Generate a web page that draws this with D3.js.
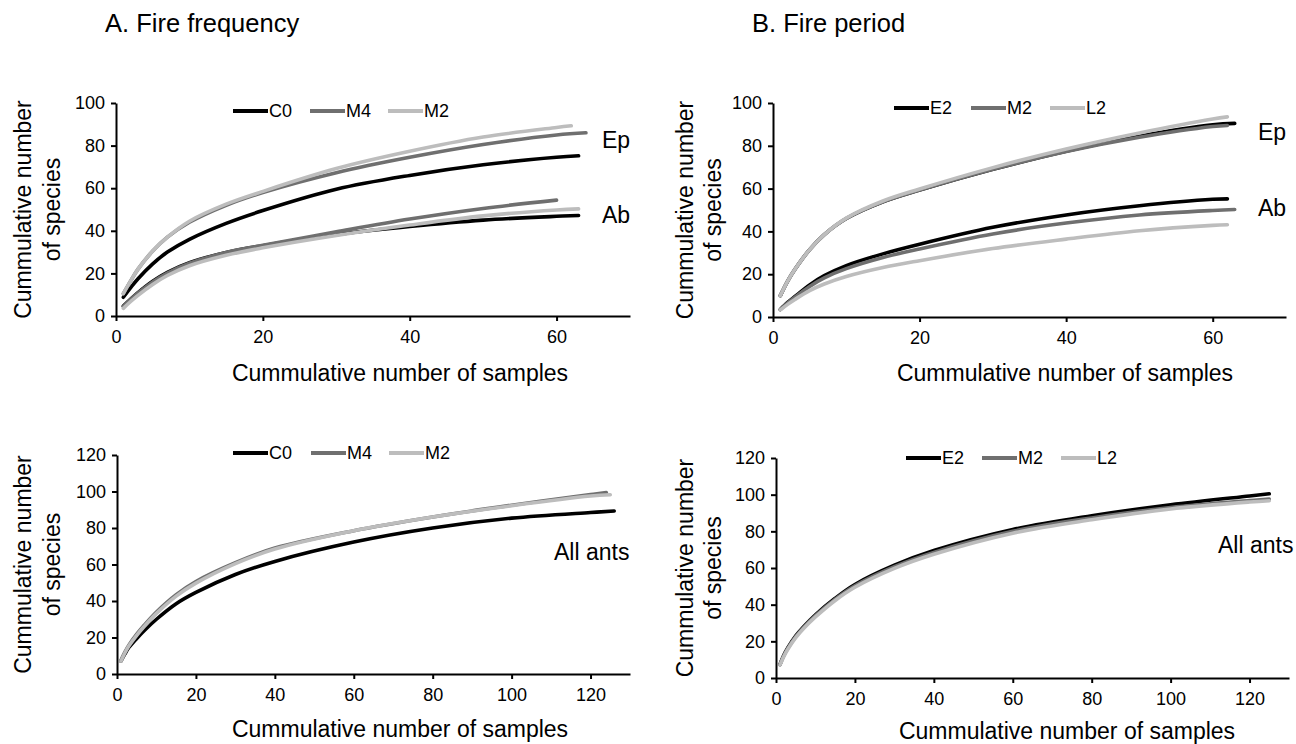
<!DOCTYPE html>
<html>
<head>
<meta charset="utf-8">
<script src="https://cdn.jsdelivr.net/npm/d3@7"></script>
<style>
  body { margin: 0; background: #fff; }
  text { font-family: "Liberation Sans", Arial, sans-serif; fill: #000; }
</style>
</head>
<body>
<script>
// sample points (cumulative number of samples)
var xTop = [1, 2, 3, 5, 7, 10, 15, 20, 30, 40, 50, 60];
var xBottom = [1, 2, 3, 5, 7, 10, 15, 20, 30, 40, 60, 80, 100, 120];

// A. fire frequency - epigaeic
var epC0 = [8.8, 13.3, 17.5, 24.5, 30, 36, 43.5, 49.5, 59.5, 66, 71, 74.5, 75.2];
var epM4 = [10.5, 16.5, 22, 30.5, 37, 44, 52, 58, 67.3, 74.5, 80.5, 85, 86];
var epM2 = [10.5, 16.5, 22, 30.5, 37, 44.5, 52.5, 58.5, 69.2, 77.3, 84, 88.5, 89.3];
var epEndA = [63, 64, 62];
// A. fire frequency - arboreal
var abC0 = [4.7, 8, 11, 16.3, 20.5, 25, 29.8, 33, 38.2, 42, 45, 46.8, 47.2];
var abM4 = [4.5, 7.8, 10.8, 16, 20.2, 24.8, 29.8, 33.2, 39.5, 45.5, 50.5, 54.4];
var abM2 = [3.6, 6.8, 9.7, 14.8, 19, 23.6, 28.5, 32, 37.8, 42.7, 47, 49.8, 50.3];
var abEndA = [63, null, 63];

// B. fire period - epigaeic
var epE2 = [10, 16.8, 22.3, 31.5, 38.5, 46, 53.8, 59.3, 69, 77.5, 84.5, 89.8, 90.5];
var epM2b = [10, 16.8, 22.3, 31.5, 38.5, 46, 53.8, 59.3, 69, 77.3, 84, 89, 89.5];
var epL2 = [10, 16.8, 22.3, 31.5, 38.5, 46.2, 54.2, 59.8, 69.8, 78.5, 86, 92.5, 93.5];
var epEndB = [63, 62, 62];
// B. fire period - arboreal
var abE2 = [3.5, 6.8, 9.6, 15, 19.3, 24, 29.5, 34, 41.9, 47.7, 52, 55, 55.2];
var abM2b = [3.5, 6.6, 9.3, 14.3, 18.3, 22.6, 27.8, 31.8, 38.8, 43.9, 47.7, 49.8, 50.2];
var abL2 = [3.3, 5.9, 8.2, 12.3, 15.4, 18.9, 23.1, 26.3, 32, 36.4, 40.3, 42.8, 43.1];
var abEndB = [62, 63, 62];

// all ants
var allC0 = [7, 11, 14.5, 19.5, 24, 30, 38.5, 44.7, 54.5, 61.7, 72.3, 80, 85.4, 88.5, 89.3];
var allM4 = [7.5, 12, 15.8, 21.8, 27, 34, 43.5, 50.7, 61, 69, 78.5, 86, 92.5, 98.3, 99.4];
var allM2 = [7, 11.5, 15.3, 21.2, 26.3, 33.2, 42.7, 49.8, 60.5, 68.5, 78.5, 86, 92.2, 97.5, 98.2];
var allEndA = [126, 124, 125];
var allE2 = [7.3, 12.5, 16.5, 23, 28, 34.5, 43.5, 51, 61.5, 69.5, 81, 88.5, 94.5, 99.3, 100.5];
var allM2b = [7.3, 12.3, 16.2, 22.6, 27.6, 34, 43, 50.3, 60.7, 68.5, 80, 87.3, 93, 96.8, 97.6];
var allL2 = [7, 11.8, 15.7, 22, 27, 33.3, 42.3, 49.5, 59.8, 67.5, 79, 86.3, 92.2, 96, 96.7];
var allEndB = [125, 125, 125];

var namesA = ["C0", "M4", "M2"];
var namesB = ["E2", "M2", "L2"];
var colors = ["#000000", "#6f6f6f", "#bdbdbd"];

var ticksTop = [0, 20, 40, 60, 80, 100];
var ticksBottom = [0, 20, 40, 60, 80, 100, 120];
var xTicksTop = [0, 20, 40, 60];
var xTicksBottom = [0, 20, 40, 60, 80, 100, 120];

// build [x, y] points for a series
function pts(xs, ys, end) {
    var p = [];
    for (var i = 0; i < ys.length; i++) {
        var x = i < xs.length ? xs[i] : end;
        p.push([x, ys[i]]);
    }
    return p;
}

var svg = d3.select("body").append("svg")
    .attr("width", 1296)
    .attr("height", 744);

svg.append("text").attr("x", 105).attr("y", 32).attr("font-size", 25.5).text("A. Fire frequency");
svg.append("text").attr("x", 752).attr("y", 32).attr("font-size", 25.5).text("B. Fire period");

function panel(cfg) {
    var xScale = d3.scaleLinear().domain([0, cfg.xMax]).range(cfg.xr);
    var yScale = d3.scaleLinear().domain([0, cfg.yMax]).range(cfg.yr);

    var g = svg.append("g");

    var yAxis = d3.axisLeft(yScale).tickValues(cfg.yTicks).tickSize(5).tickSizeOuter(0).tickPadding(6);
    var xAxis = d3.axisBottom(xScale).tickValues(cfg.xTicks).tickSize(5).tickSizeOuter(0).tickPadding(9);

    g.append("g").attr("transform", "translate(" + cfg.xr[0] + ",0)").call(yAxis);
    g.append("g").attr("transform", "translate(0," + cfg.yr[0] + ")").call(xAxis);
    g.selectAll(".domain").attr("stroke", "#000").attr("stroke-width", 2);
    g.selectAll(".tick line").attr("stroke", "#000").attr("stroke-width", 2);
    g.selectAll(".tick text").attr("font-size", 18).attr("font-family", "Liberation Sans, Arial, sans-serif");

    var line = d3.line()
        .x(function (d) { return xScale(d[0]); })
        .y(function (d) { return yScale(d[1]); })
        .curve(d3.curveCatmullRom.alpha(0.5));

    g.selectAll("path.curve").data(cfg.series).enter().append("path")
        .attr("class", "curve")
        .attr("d", function (d) { return line(d.p); })
        .attr("fill", "none")
        .attr("stroke", function (d) { return d.c; })
        .attr("stroke-width", 3.6)
        .attr("stroke-linecap", "round");

    // legend
    cfg.names.forEach(function (n, i) {
        var lx = cfg.legX[i];
        g.append("line").attr("x1", lx).attr("x2", lx + 35)
            .attr("y1", cfg.legY).attr("y2", cfg.legY)
            .attr("stroke", colors[i]).attr("stroke-width", 4);
        g.append("text").attr("x", lx + 36).attr("y", cfg.legY).attr("dy", "0.35em")
            .attr("font-size", 18).text(n);
    });

    cfg.labels.forEach(function (l) {
        g.append("text").attr("x", l[1]).attr("y", l[2]).attr("dy", "0.35em")
            .attr("font-size", 23).text(l[0]);
    });

    // axis titles
    g.append("text").attr("x", cfg.xTitle[0]).attr("y", cfg.xTitle[1]).attr("dy", "0.35em")
        .attr("text-anchor", "middle").attr("font-size", 23).text("Cummulative number of samples");
    var yc = (cfg.yr[0] + cfg.yr[1]) / 2;
    [["Cummulative number", cfg.yTitleX[0]], ["of species", cfg.yTitleX[1]]].forEach(function (t) {
        g.append("text").attr("transform", "translate(" + t[1] + "," + yc + ") rotate(-90)")
            .attr("dy", "0.35em").attr("text-anchor", "middle").attr("font-size", 23).text(t[0]);
    });
}

panel({
    xMax: 70, yMax: 100, xr: [116, 630], yr: [316, 103],
    yTicks: ticksTop, xTicks: xTicksTop,
    series: [
        {p: pts(xTop, epC0, epEndA[0]), c: colors[0]},
        {p: pts(xTop, epM4, epEndA[1]), c: colors[1]},
        {p: pts(xTop, epM2, epEndA[2]), c: colors[2]},
        {p: pts(xTop, abC0, abEndA[0]), c: colors[0]},
        {p: pts(xTop, abM4, abEndA[1]), c: colors[1]},
        {p: pts(xTop, abM2, abEndA[2]), c: colors[2]}
    ],
    names: namesA, legX: [233, 310, 388], legY: 111,
    labels: [["Ep", 602, 140], ["Ab", 602, 215]],
    xTitle: [400, 373], yTitleX: [23, 52]
});

panel({
    xMax: 70, yMax: 100, xr: [773, 1286], yr: [317, 103],
    yTicks: ticksTop, xTicks: xTicksTop,
    series: [
        {p: pts(xTop, epE2, epEndB[0]), c: colors[0]},
        {p: pts(xTop, epM2b, epEndB[1]), c: colors[1]},
        {p: pts(xTop, epL2, epEndB[2]), c: colors[2]},
        {p: pts(xTop, abE2, abEndB[0]), c: colors[0]},
        {p: pts(xTop, abM2b, abEndB[1]), c: colors[1]},
        {p: pts(xTop, abL2, abEndB[2]), c: colors[2]}
    ],
    names: namesB, legX: [894, 971, 1050], legY: 108,
    labels: [["Ep", 1258, 132], ["Ab", 1258, 208]],
    xTitle: [1065, 373], yTitleX: [685, 713]
});

panel({
    xMax: 130, yMax: 120, xr: [117, 630], yr: [674, 455],
    yTicks: ticksBottom, xTicks: xTicksBottom,
    series: [
        {p: pts(xBottom, allC0, allEndA[0]), c: colors[0]},
        {p: pts(xBottom, allM4, allEndA[1]), c: colors[1]},
        {p: pts(xBottom, allM2, allEndA[2]), c: colors[2]}
    ],
    names: namesA, legX: [233, 311, 389], legY: 453,
    labels: [["All ants", 554, 552]],
    xTitle: [400, 729], yTitleX: [23, 52]
});

panel({
    xMax: 130, yMax: 120, xr: [776, 1289], yr: [678, 458],
    yTicks: ticksBottom, xTicks: xTicksBottom,
    series: [
        {p: pts(xBottom, allE2, allEndB[0]), c: colors[0]},
        {p: pts(xBottom, allM2b, allEndB[1]), c: colors[1]},
        {p: pts(xBottom, allL2, allEndB[2]), c: colors[2]}
    ],
    names: namesB, legX: [906, 982, 1061], legY: 458,
    labels: [["All ants", 1218, 545]],
    xTitle: [1067, 731], yTitleX: [685, 713]
});
</script>
</body>
</html>
